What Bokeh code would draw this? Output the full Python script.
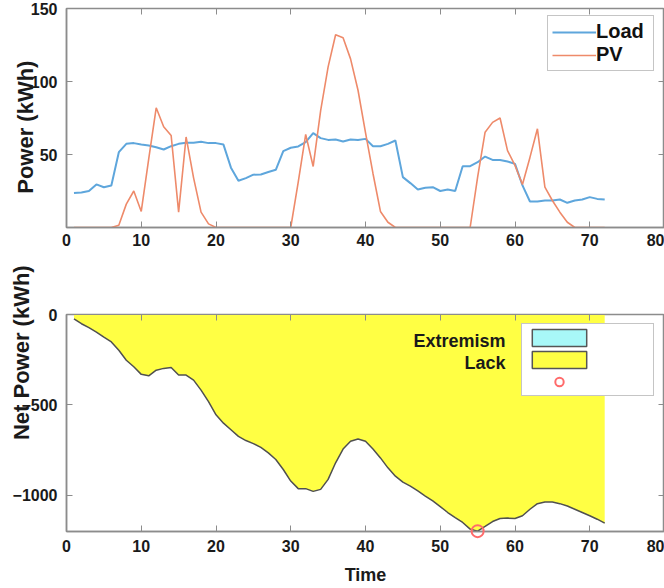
import numpy as np
from bokeh.plotting import figure
from bokeh.models import (Range1d, FixedTicker, LinearAxis, Legend, LegendItem, Label,
                          ColumnDataSource, CustomLabelingPolicy)
from bokeh.layouts import column
from bokeh.embed import file_html
from bokeh.resources import INLINE

# ---------------- data ----------------
time = list(range(1, 73))

load = [23.7, 24.0, 25.0, 29.5, 27.6, 28.8, 51.6, 57.3, 57.8, 56.8,
        56.2, 55.0, 53.4, 55.7, 57.3, 58.0, 58.0, 58.7, 57.8, 57.8,
        56.8, 41.0, 32.0, 33.8, 36.2, 36.3, 38.0, 39.5, 52.3, 54.6,
        55.5, 58.4, 64.6, 61.2, 60.0, 60.3, 58.9, 60.3, 60.0, 60.7,
        55.7, 55.7, 57.3, 59.6, 34.5, 30.4, 26.0, 27.2, 27.6, 25.0,
        26.0, 25.0, 42.0, 42.0, 44.7, 48.6, 46.3, 46.3, 45.2, 43.6,
        28.8, 17.8, 17.8, 18.5, 18.5, 19.2, 16.9, 18.5, 19.2, 20.8,
        19.6, 19.2]

pv = [0, 0, 0, 0, 0, 0, 1.5, 16, 25, 11,
      47, 82, 69, 63, 10.5, 62, 34, 10.5, 2.5, 0,
      0, 0, 0, 0, 0, 0, 0, 0, 0, 0,
      31, 63.7, 41.8, 80, 110, 132, 130, 115.5, 94, 65,
      37, 11, 3.6, 0, 0, 0, 0, 0, 0, 0,
      0, 0, 0, 0, 34.5, 65.3, 72, 75, 52.7, 42.5,
      29.5, 48, 67.6, 27.6, 18.5, 10.5, 3.6, 0, 0, 0,
      0, 0]

net_power = [-24, -51, -73, -97, -125, -152, -198, -253, -289, -331,
             -339, -308, -298, -293, -335, -335, -363, -418, -482, -555,
             -601, -637, -674, -697, -714, -735, -765, -802, -857, -921,
             -963, -963, -978, -967, -912, -820, -744, -701, -689, -701,
             -744, -793, -848, -894, -927, -949, -976, -1004, -1031, -1062,
             -1095, -1123, -1150, -1187, -1198, -1172, -1145, -1128, -1126, -1128,
             -1113, -1077, -1046, -1037, -1037, -1046, -1059, -1077, -1095, -1113,
             -1132, -1154]

x_ticks = [0, 10, 20, 30, 40, 50, 60, 70, 80]
top_y_ticks = [50, 100, 150]
bottom_y_ticks = [-1000, -500, 0]

# ---------------- style ----------------
FONT = "Liberation Sans"
TXT = "#1a1a1a"
FRAME = "#8c8c8c"
W = 664
NBSP = "\u00a0"
NO_LABELS = "for (const i of Array.from(indices)) { indices.unset(i) }"


def style_axes(p, yticks, x_standoff):
    p.xgrid.visible = False
    p.ygrid.visible = False
    p.outline_line_color = FRAME
    p.outline_line_width = 1.5
    p.background_fill_color = "white"
    p.border_fill_color = "white"
    p.xaxis.ticker = FixedTicker(ticks=x_ticks)
    p.yaxis.ticker = FixedTicker(ticks=yticks)
    for ax in (p.xaxis[0], p.yaxis[0]):
        ax.axis_line_color = FRAME
        ax.axis_line_width = 1.5
        ax.major_tick_line_color = FRAME
        ax.major_tick_in = 6
        ax.major_tick_out = 0
        ax.minor_tick_line_color = None
        ax.major_label_text_font = FONT
        ax.major_label_text_font_style = "bold"
        ax.major_label_text_font_size = "16px"
        ax.major_label_text_color = TXT
    p.xaxis[0].major_label_standoff = x_standoff
    p.yaxis[0].major_label_standoff = 9
    yax = p.yaxis[0]
    yax.axis_label_text_font = FONT
    yax.axis_label_text_font_style = "bold"
    yax.axis_label_text_font_size = "22px"
    yax.axis_label_text_color = TXT
    # box ticks on the top and right edges (no labels)
    for loc, tk in (("above", x_ticks), ("right", yticks)):
        ax = LinearAxis(ticker=FixedTicker(ticks=tk))
        ax.axis_line_color = FRAME
        ax.major_tick_line_color = FRAME
        ax.major_tick_in = 6
        ax.major_tick_out = 0
        ax.minor_tick_line_color = None
        ax.major_label_text_font_size = "0px"
        ax.major_label_standoff = 0
        ax.major_label_policy = CustomLabelingPolicy(code=NO_LABELS)
        p.add_layout(ax, loc)


# ---------------- top: Load / PV ----------------
top = figure(width=W, height=262, x_range=Range1d(0, 80), y_range=Range1d(0, 150),
             output_backend="svg", toolbar_location=None,
             min_border_left=66, min_border_right=0, min_border_top=8, min_border_bottom=35)
style_axes(top, top_y_ticks, 6)
top.yaxis[0].axis_label = "Power (kWh)" + NBSP * 3
top.yaxis[0].axis_label_standoff = -10

r_load = top.line(time, load, line_color="#5ea6dc", line_width=2)
r_pv = top.line(time, pv, line_color="#ee8a6a", line_width=1.6)

leg_top = Legend(items=[LegendItem(label="Load", renderers=[r_load]),
                        LegendItem(label="PV", renderers=[r_pv])],
                 location=(481, 156), margin=0, padding=4, spacing=0,
                 glyph_width=44, glyph_height=22, label_height=22, label_width=53,
                 label_standoff=0,
                 label_text_font=FONT, label_text_font_style="bold",
                 label_text_font_size="20px", label_text_color="#111111",
                 border_line_color=FRAME, border_line_width=1.5,
                 background_fill_color="white", background_fill_alpha=1.0)
top.add_layout(leg_top)

# ---------------- bottom: Net power ----------------
bot = figure(width=W, height=326, x_range=Range1d(0, 80), y_range=Range1d(-1200, 0),
             output_backend="svg", toolbar_location=None,
             min_border_left=66, min_border_right=0, min_border_top=52, min_border_bottom=57)
style_axes(bot, bottom_y_ticks, 8)
# the label sits above the centre of the axis, as in the original figure
bot.yaxis[0].axis_label = NBSP * 23 + "Net Power (kWh)"
bot.yaxis[0].axis_label_standoff = -24
xb = bot.below[0]
xb.axis_label = "Time"
xb.axis_label_text_font = FONT
xb.axis_label_text_font_style = "bold"
xb.axis_label_text_font_size = "18px"
xb.axis_label_text_color = TXT
xb.axis_label_standoff = 10

src = ColumnDataSource(dict(t=time, net=net_power, zero=[0] * len(time)))
bot.varea(x="t", y1="net", y2="zero", source=src, fill_color="#ffff44", fill_alpha=1.0)
bot.line(x="t", y="net", source=src, line_color="#505050", line_width=1.5)

i_min = int(np.argmin(net_power))
r_ext = bot.scatter([time[i_min]], [net_power[i_min]], marker="circle", size=12,
                    fill_color=None, line_color="#ff6b6b", line_width=2, level="overlay")

# legend-only swatches (no visible geometry)
nan = np.array([np.nan])
r_surplus = bot.quad(left=nan, right=nan, top=nan, bottom=nan, fill_color="#a8f8f8",
                     line_color="#555555", line_width=1.5)
r_lack = bot.quad(left=nan, right=nan, top=nan, bottom=nan, fill_color="#ffff44",
                  line_color="#555555", line_width=1.5)

leg_bot = Legend(items=[LegendItem(label=" ", renderers=[r_surplus]),
                        LegendItem(label=" ", renderers=[r_lack]),
                        LegendItem(label=" ", renderers=[r_ext])],
                 location=(455, 135), margin=0, padding=3, spacing=1,
                 glyph_width=68, glyph_height=21, label_height=21, label_width=57,
                 label_standoff=0, label_text_font_size="10px",
                 border_line_color=FRAME, border_line_width=1.5,
                 background_fill_color="white", background_fill_alpha=1.0)
bot.add_layout(leg_bot)

for txt, yy in (("Extremism", 191), ("Lack", 169)):
    bot.add_layout(Label(x=439, y=yy, x_units="screen", y_units="screen", text=txt,
                         text_align="right", text_baseline="middle",
                         text_font=FONT, text_font_style="bold", text_font_size="18px",
                         text_color=TXT))

layout = column(top, bot)
open("out.html", "w").write(file_html(layout, INLINE))
